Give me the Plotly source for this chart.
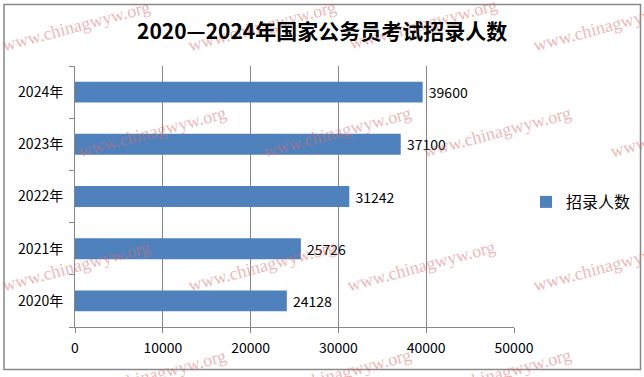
import plotly.graph_objects as go

years = ["2020年", "2021年", "2022年", "2023年", "2024年"]
values = [24128, 25726, 31242, 37100, 39600]
series_name = "招录人数"
title = "2020—2024年国家公务员考试招录人数"
x_ticks = [0, 10000, 20000, 30000, 40000, 50000]

W, H = 644, 377
L, R, T, B = 75, 514, 66, 327  # plot area in pixels

def px(x):
    return (x - L) / (R - L)

def py(y):
    return (B - y) / (B - T)

FONT = "Noto Sans CJK SC, Open Sans"

fig = go.Figure()
fig.add_trace(go.Bar(
    y=years, x=values, orientation="h", name=series_name,
    marker=dict(color="#4F81BD", line=dict(width=0)),
    text=[" " + str(v) for v in values], textposition="outside",
    textfont=dict(family=FONT, size=14, color="#000000"),
    cliponaxis=False, showlegend=True, hoverinfo="x+y",
))

# watermark text positions (pixel centres)
wm = [(76, 26), (262, 26), (423, 24), (607, 26),
      (152, 132), (337, 132), (497, 132), (684, 132),
      (76, 266), (262, 266), (421, 266), (607, 266),
      (152, 375), (337, 374), (497, 374)]
annotations = []
for (x, y) in wm:
    annotations.append(dict(
        x=px(x), y=py(y), xref="paper", yref="paper",
        text="www.chinagwyw.org", showarrow=False, textangle=-15,
        font=dict(family="Liberation Serif, DejaVu Serif, serif", size=18,
                  color="rgba(215,110,110,0.5)"),
        xanchor="center", yanchor="middle",
    ))

annotations.append(dict(
    x=px(322), y=py(30), xref="paper", yref="paper", text="<b>" + title + "</b>",
    showarrow=False, xanchor="center", yanchor="middle",
    font=dict(family="Noto Sans CJK SC", size=21, color="#000000"),
))

shapes = [dict(type="rect", xref="paper", yref="paper",
               x0=px(4), x1=px(640.5), y0=py(369.5), y1=py(4.5),
               line=dict(color="#888888", width=1.5), fillcolor="rgba(0,0,0,0)", layer="below")]

fig.update_layout(
    width=W, height=H,
    margin=dict(l=L, r=W - R, t=T, b=H - B, pad=0),
    paper_bgcolor="white", plot_bgcolor="white",
    bargap=0.6,
    showlegend=True,
    legend=dict(xref="container", yref="container", x=526 / W, y=1 - 202 / H,
                xanchor="left", yanchor="middle",
                font=dict(family="Noto Sans CJK SC", size=16, color="#000000"),
                bgcolor="rgba(0,0,0,0)"),
    annotations=annotations,
    shapes=shapes,
    font=dict(family="Noto Sans CJK SC"),
)
fig.update_xaxes(
    range=[0, 50000], tickvals=x_ticks, ticktext=[str(v) for v in x_ticks],
    showgrid=True, gridcolor="#868686", gridwidth=1,
    showline=True, linecolor="#868686", linewidth=1,
    ticks="outside", ticklen=5, tickcolor="#868686",
    tickfont=dict(family=FONT, size=14, color="#000000"),
    ticklabelstandoff=3,
    zeroline=False, automargin=False,
)
fig.update_yaxes(
    categoryorder="array", categoryarray=years,
    showgrid=False, showline=True, linecolor="#868686", linewidth=1,
    ticks="outside", ticklen=5, tickcolor="#868686", tickson="boundaries",
    tickfont=dict(family=FONT, size=14, color="#000000"),
    ticklabelstandoff=8, automargin=False,
)

fig.write_html("out.html")
